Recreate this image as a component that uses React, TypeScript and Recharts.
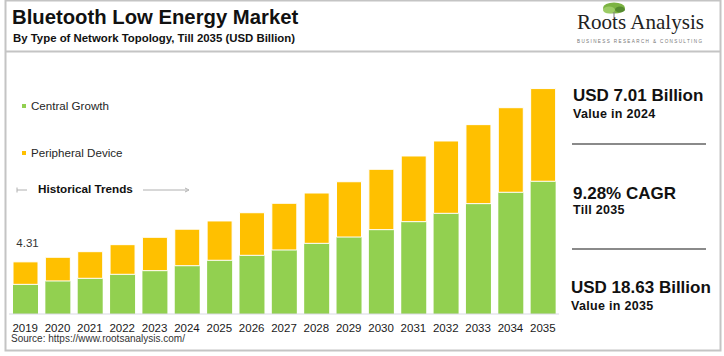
import { BarChart, Bar, XAxis, YAxis, LabelList } from "recharts";

const years = [
  "2019", "2020", "2021", "2022", "2023", "2024", "2025", "2026", "2027",
  "2028", "2029", "2030", "2031", "2032", "2033", "2034", "2035",
];
const centralGrowth = [
  2.45, 2.73, 2.95, 3.28, 3.58, 3.99, 4.44, 4.85, 5.29, 5.84, 6.36, 6.97,
  7.63, 8.32, 9.12, 10.06, 10.97,
];
const peripheralDevice = [
  1.86, 1.96, 2.2, 2.45, 2.76, 3.02, 3.25, 3.52, 3.86, 4.16, 4.57, 4.99,
  5.43, 5.98, 6.53, 6.99, 7.66,
];

const GREEN = "#92d050";
const YELLOW = "#ffc000";
const FONT = "'Liberation Sans', Arial, sans-serif";

const data = years.map((year, i) => ({
  year,
  central: centralGrowth[i],
  peripheral: peripheralDevice[i],
  total: +(centralGrowth[i] + peripheralDevice[i]).toFixed(2),
}));

// only the first bar carries a value label
const FirstLabel = (props: any) => {
  const { x, y, width, index } = props;
  if (index !== 0) return null;
  return (
    <text
      x={x + width / 2 + 2}
      y={y - 15}
      textAnchor="middle"
      fontSize={11.5}
      fontFamily={FONT}
      fill="#333"
    >
      {data[0].total}
    </text>
  );
};

export default function App() {
  return (
    <div
      style={{
        position: "absolute",
        left: 0,
        top: 0,
        width: 724,
        height: 356,
        background: "#fff",
        fontFamily: FONT,
      }}
    >
      <BarChart
        width={724}
        height={356}
        data={data}
        margin={{ top: 72, right: 165, left: 9, bottom: 12 }}
        barSize={25}
      >
        <XAxis
          dataKey="year"
          height={30}
          tickLine={false}
          tickMargin={4}
          axisLine={{ stroke: "#d9d9e3" }}
          interval={0}
          tick={{ fontSize: 11.5, fill: "#1a1a1a", fontFamily: FONT }}
        />
        <YAxis hide domain={[0, 20]} />
        <Bar
          dataKey="central"
          stackId="a"
          fill={GREEN}
          isAnimationActive={false}
        />
        <Bar
          dataKey="peripheral"
          stackId="a"
          fill={YELLOW}
          stroke="#ffffff"
          strokeWidth={1}
          isAnimationActive={false}
        >
          <LabelList dataKey="total" content={FirstLabel} />
        </Bar>
      </BarChart>

      <svg
        width={724}
        height={356}
        style={{ position: "absolute", left: 0, top: 0, pointerEvents: "none" }}
        fontFamily={FONT}
      >
        {/* frame */}
        <rect x={5.5} y={0.5} width={715} height={350} fill="none" stroke="#c4c4c4" strokeWidth={2} />
        <line x1={5} y1={51.5} x2={721} y2={51.5} stroke="#c4c4c4" strokeWidth={2} />

        {/* title */}
        <text x={12} y={24} fontSize={20.3} fontWeight="bold" fill="#111">
          Bluetooth Low Energy Market
        </text>
        <text x={13} y={42} fontSize={11.4} fontWeight="bold" fill="#111">
          By Type of Network Topology, Till 2035 (USD Billion)
        </text>

        {/* logo */}
        <ellipse cx={614} cy={8} rx={11} ry={5.5} fill="#7cb342" />
        <ellipse cx={609} cy={10} rx={6} ry={3.5} fill="#9ccc65" />
        <ellipse cx={620} cy={9.5} rx={5} ry={3} fill="#558b2f" />
        <line x1={614} y1={12} x2={614} y2={18} stroke="#8d8d8d" strokeWidth={1.2} />
        <text
          x={577}
          y={29}
          fontSize={21}
          fontFamily="'Liberation Serif', 'Times New Roman', serif"
          fill="#222"
          textLength={127}
          lengthAdjust="spacingAndGlyphs"
        >
          Roots Analysis
        </text>
        <text
          x={577}
          y={42.5}
          fontSize={4.6}
          fill="#777"
          textLength={125}
          lengthAdjust="spacing"
        >
          BUSINESS RESEARCH &amp; CONSULTING
        </text>

        {/* legend */}
        <rect x={22} y={104} width={4} height={4} fill={GREEN} />
        <text x={31} y={110} fontSize={11.6} fill="#262626">Central Growth</text>
        <rect x={22} y={151} width={4} height={4} fill={YELLOW} />
        <text x={31} y={157} fontSize={11.6} fill="#262626">Peripheral Device</text>

        <line x1={17} y1={187.5} x2={17} y2={192.5} stroke="#b0b0b0" strokeWidth={1} />
        <line x1={17} y1={190} x2={27} y2={190} stroke="#b0b0b0" strokeWidth={1} />
        <text x={38} y={193} fontSize={11.7} fontWeight="bold" fill="#111">
          Historical Trends
        </text>
        <line x1={143} y1={190} x2={187} y2={190} stroke="#b0b0b0" strokeWidth={1} />
        <path d="M185,188 L189,190 L185,192" fill="none" stroke="#b0b0b0" strokeWidth={1} />

        {/* key figures */}
        <text x={573} y={100.5} fontSize={17} fontWeight="bold" fill="#111">
          USD 7.01 Billion
        </text>
        <text x={573} y={117.5} fontSize={12.5} fontWeight="bold" fill="#111" letterSpacing={0.3}>
          Value in 2024
        </text>
        <line x1={572} y1={144} x2={706} y2={144} stroke="#8a8a8a" strokeWidth={2} />
        <text x={573} y={198.5} fontSize={17} fontWeight="bold" fill="#111">
          9.28% CAGR
        </text>
        <text x={573} y={214} fontSize={12.5} fontWeight="bold" fill="#111" letterSpacing={0.3}>
          Till 2035
        </text>
        <line x1={572} y1={249} x2={706} y2={249} stroke="#8a8a8a" strokeWidth={2} />
        <text x={571} y={292.5} fontSize={17} fontWeight="bold" fill="#111">
          USD 18.63 Billion
        </text>
        <text x={571} y={309.5} fontSize={12.5} fontWeight="bold" fill="#111" letterSpacing={0.3}>
          Value in 2035
        </text>

        {/* source */}
        <text x={11} y={342} fontSize={10} fill="#333">
          Source: https://www.rootsanalysis.com/
        </text>
      </svg>
    </div>
  );
}
